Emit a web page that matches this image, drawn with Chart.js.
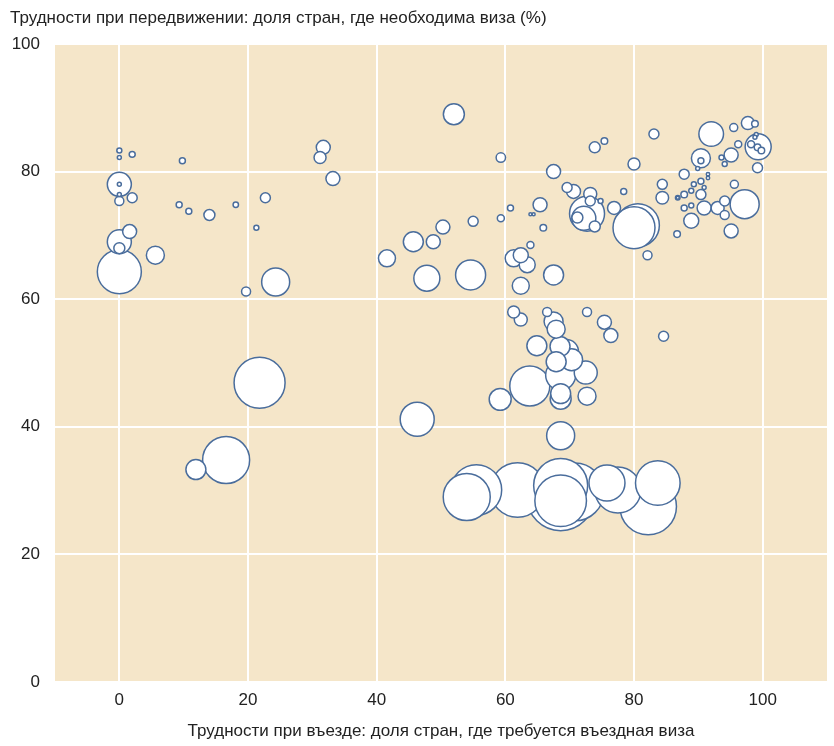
<!DOCTYPE html>
<html>
<head>
<meta charset="utf-8">
<script src="https://cdn.jsdelivr.net/npm/chart.js@4"></script>
<style>
html,body{margin:0;padding:0;background:#fff;}
canvas{display:block;}
</style>
</head>
<body>
<canvas id="c" width="834" height="746"></canvas>
<script>
// ---- data ----
const titleY = "Трудности при передвижении: доля стран, где необходима виза (%)";
const titleX = "Трудности при въезде: доля стран, где требуется въездная виза";
const xTicks = [0, 20, 40, 60, 80, 100];
const yTicks = [0, 20, 40, 60, 80, 100];

// entry difficulty (% of countries requiring entry visa)
const entryVisa = [
  0, 0, 2.0, 9.8, 0, 0, 0, 0, 2.0, 9.3,
  10.8, 14.0, 18.1, 22.7, 21.3, 1.6, 0, 0, 5.6, 0,
  19.7, 24.3, 31.7, 31.2, 33.2, 21.8, 16.6, 11.9, 46.3, 52.0,
  59.3, 67.5, 73.9, 75.4, 83.1, 80.0, 69.6, 70.6, 73.2, 73.2,
  74.8, 78.4, 72.7, 72.2, 71.2, 73.9, 76.9, 80.0, 80.6, 82.1,
  65.4, 60.8, 59.3, 55.0, 50.3, 48.8, 45.7, 41.6, 47.8, 54.6,
  63.9, 64.4, 65.9, 63.9, 62.4, 61.3, 63.4, 67.5, 62.4, 61.3,
  62.4, 66.5, 67.5, 67.9, 72.7, 75.4, 76.4, 64.9, 68.5, 69.5,
  70.3, 67.9, 68.6, 72.5, 63.8, 68.6, 68.6, 72.7, 59.2, 68.6,
  54.0, 55.5, 61.9, 68.6, 68.6, 69.0, 68.6, 70.8, 75.8, 77.5,
  83.7, 82.2, 92.0, 95.5, 97.7, 98.8, 99.0, 98.8, 99.3, 98.2,
  99.2, 99.8, 96.2, 95.1, 90.4, 90.4, 93.6, 94.1, 89.9, 99.2,
  87.8, 91.5, 91.5, 95.6, 89.3, 90.4, 90.9, 88.9, 87.8, 86.8,
  86.8, 90.4, 84.4, 84.4, 87.8, 88.9, 90.9, 93.0, 94.1, 94.1,
  97.2, 88.9, 95.1, 86.7, 84.6
];
// travel difficulty (% of destinations needing a visa)
const travelVisa = [
  83.3, 82.2, 82.7, 81.7, 78.0, 78.0, 76.4, 75.4, 75.9, 74.8,
  73.8, 73.2, 74.8, 75.9, 71.2, 70.6, 69.0, 68.0, 66.9, 64.3,
  61.2, 62.7, 83.8, 82.2, 78.9, 46.9, 34.8, 33.3, 41.2, 89.0,
  82.2, 80.0, 83.8, 84.8, 85.9, 81.2, 77.5, 76.9, 76.5, 75.4,
  75.4, 76.9, 73.4, 72.7, 72.8, 71.4, 74.3, 71.2, 71.6, 66.9,
  74.8, 74.3, 72.7, 72.2, 71.3, 69.0, 69.0, 66.4, 63.3, 63.8,
  73.3, 73.3, 71.2, 68.5, 66.9, 66.4, 65.4, 63.8, 62.1, 58.0,
  56.8, 58.0, 56.5, 55.3, 58.0, 56.4, 54.3, 52.7, 52.6, 51.8,
  50.5, 50.2, 48.1, 48.5, 46.4, 45.2, 44.4, 44.8, 44.3, 38.6,
  29.0, 30.1, 30.1, 30.8, 29.0, 29.8, 28.4, 29.8, 31.2, 30.1,
  31.2, 27.5, 85.9, 86.9, 87.6, 87.5, 85.8, 85.4, 83.9, 84.3,
  83.8, 83.3, 84.3, 82.6, 82.1, 81.7, 82.2, 81.2, 80.5, 80.6,
  79.6, 79.6, 79.0, 78.0, 78.0, 78.5, 77.5, 77.0, 76.4, 75.9,
  75.9, 76.4, 78.0, 75.9, 74.3, 74.7, 74.3, 74.3, 75.4, 73.2,
  74.9, 72.3, 70.7, 70.2, 54.2
];
// population, millions
const population = [
  7.7, 4.9, 11.1, 11.1, 178, 4.9, 4.9, 25, 30.9, 11.1,
  11.1, 37.3, 9, 30.9, 7.7, 60.5, 178, 37.3, 100, 598,
  25, 242, 60.5, 44.4, 60.5, 803, 682, 123, 357, 136,
  27.3, 60.5, 37.3, 13.4, 30.9, 44.4, 30.9, 60.5, 52.2, 30.9,
  7.7, 11.1, 378, 178, 37.3, 37.3, 52.2, 544, 571, 25,
  60.5, 11.1, 15.1, 30.9, 60.5, 60.5, 123, 89.2, 209, 278,
  2.8, 2.8, 13.4, 15.1, 69.4, 89.2, 79, 123, 89.2, 44.4,
  52.2, 25, 111, 100, 25, 60.5, 60.5, 123, 123, 178,
  149, 123, 278, 163, 494, 123, 136, 100, 149, 242,
  682, 790, 920, 900, 1402, 1186, 822, 1038, 400, 653,
  614, 989, 187, 19.8, 52.2, 13.4, 4.9, 4.9, 209, 15.1,
  13.4, 13.4, 15.1, 60.5, 111, 11.1, 7.7, 7.7, 4.9, 30.9,
  30.9, 3.6, 3.6, 19.8, 7.7, 11.1, 4.9, 7.7, 13.4, 6.5,
  2.8, 30.9, 30.9, 49, 11.1, 7.7, 60.5, 52.2, 30.9, 25,
  260, 69.4, 60.5, 13.4, 30.9
];

// ---- build points (largest drawn first) ----
const order = population.map((p, i) => i).sort((a, b) => population[b] - population[a]);
const points = order.map(i => ({ x: entryVisa[i], y: travelVisa[i], r: 0.9 * Math.sqrt(population[i]) }));

const FONT = "'Liberation Sans', Arial, sans-serif";
const FSIZE = 17;
const TXT = '#222222';

const bgPlugin = {
  id: 'bg',
  beforeDraw(chart) {
    const { ctx, chartArea: a } = chart;
    ctx.save();
    ctx.fillStyle = '#f5e6c9';
    ctx.fillRect(a.left, a.top, a.right - a.left, a.bottom - a.top);
    ctx.restore();
  },
  afterDraw(chart) {
    const { ctx } = chart;
    ctx.save();
    ctx.font = FSIZE + 'px ' + FONT;
    ctx.fillStyle = TXT;
    ctx.textBaseline = 'middle';
    ctx.textAlign = 'left';
    ctx.fillText(titleY, 10, 18);
    ctx.restore();
  }
};

new Chart(document.getElementById('c'), {
  type: 'bubble',
  data: {
    datasets: [{
      data: points,
      backgroundColor: '#ffffff',
      borderColor: '#4a6d9c',
      borderWidth: 1.5,
      hoverBorderWidth: 1.5
    }]
  },
  options: {
    responsive: false,
    devicePixelRatio: 1,
    animation: false,
    events: [],
    layout: { autoPadding: false, padding: { top: 44, right: 7, left: 0, bottom: 0 } },
    plugins: { legend: { display: false }, tooltip: { enabled: false }, title: { display: false } },
    scales: {
      x: {
        type: 'linear', min: -10, max: 110,
        afterBuildTicks: s => { s.ticks = xTicks.map(v => ({ value: v })); },
        afterFit: s => { s.height = 64; },
        grid: { color: '#ffffff', lineWidth: 2, drawTicks: false },
        border: { display: false },
        ticks: { padding: 8, color: TXT, font: { family: FONT, size: FSIZE } },
        title: { display: true, text: titleX, color: TXT, font: { family: FONT, size: FSIZE }, padding: { top: 0, bottom: 4 } }
      },
      y: {
        type: 'linear', min: 0, max: 100,
        afterBuildTicks: s => { s.ticks = yTicks.map(v => ({ value: v })); },
        afterFit: s => { s.width = 55; },
        grid: { color: '#ffffff', lineWidth: 2, drawTicks: false },
        border: { display: false },
        ticks: { padding: 15, color: TXT, font: { family: FONT, size: FSIZE } }
      }
    }
  },
  plugins: [bgPlugin]
});
</script>
</body>
</html>
